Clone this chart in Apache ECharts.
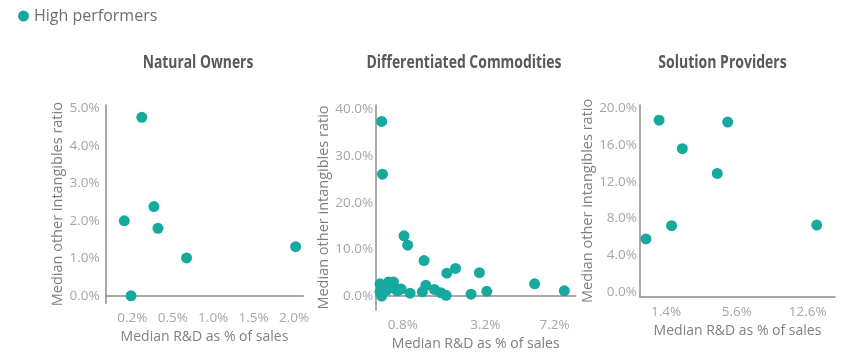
<!DOCTYPE html>
<html><head><meta charset="utf-8">
<script src="https://cdn.jsdelivr.net/npm/echarts@6/dist/echarts.min.js"></script>
<style>html,body{margin:0;padding:0;background:#fff}#c{width:847px;height:359px}</style>
</head><body><div id="c"></div>
<script>
const seriesName = 'High performers';
const panelTitles = ['Natural Owners', 'Differentiated Commodities', 'Solution Providers'];
const xAxisName = 'Median R&D as % of sales';
const yAxisName = 'Median other intangibles ratio';

// Natural Owners (R&D %, other intangibles %)
const noX = [0.27, 0.14, 0.36, 0.39, 0.67, 2.02, 0.19];
const noY = [4.76, 2.0, 2.38, 1.80, 1.01, 1.31, 0.0];
const noXTicks = [0.2, 0.5, 1.0, 1.5, 2.0];
const noYTicks = [0, 1, 2, 3, 4, 5];

// Differentiated Commodities
const dcX = [0.49, 0.50, 0.82, 0.885, 1.22, 2.08, 1.81, 2.95, 5.82, 7.94, 3.26, 2.62, 1.79, 1.64, 1.47, 1.26, 1.18, 0.93, 0.77,
             0.47, 0.47, 0.49, 0.58, 0.65, 0.55, 0.67, 0.52, 0.61, 0.71];
const dcY = [37.4, 26.1, 12.9, 10.9, 7.6, 5.9, 4.9, 5.0, 2.6, 1.1, 1.0, 0.4, 0.15, 0.7, 1.4, 2.3, 0.9, 0.6, 1.5,
             2.6, 0.9, 0.0, 3.0, 3.0, 1.2, 1.6, 1.9, 2.0, 1.1];
const dcXTicks = [0.8, 3.2, 7.2];
const dcYTicks = [0, 10, 20, 30, 40];

// Solution Providers
const spX = [1.14, 4.90, 2.12, 4.16, 1.63, 0.72, 13.69];
const spY = [18.7, 18.5, 15.6, 12.9, 7.2, 5.75, 7.27];
const spXTicks = [1.4, 5.6, 12.6];
const spYTicks = [0, 4, 8, 12, 16, 20];

// axis transforms (the original uses compressed, non-linear R&D axes)
function tickIndex(v, ticks) {
  let i = 0;
  while (i < ticks.length - 2 && v > ticks[i + 1]) i++;
  return i + (v - ticks[i]) / (ticks[i + 1] - ticks[i]);
}
const panels = [
  { xs: noX, ys: noY, xt: noXTicks, yt: noYTicks, f: v => tickIndex(v, noXTicks),
    grid: { left: 105.7, top: 105, width: 197.6, height: 198.3 }, xr: [-0.66, 4.23], yr: [-0.2, 5.09],
    onZero: true, lblMargin: 6, nameGap: 36, title: 198 },
  { xs: dcX, ys: dcY, xt: dcXTicks, yt: dcYTicks, f: v => Math.cbrt(v),
    grid: { left: 375.7, top: 105, width: 200, height: 205 }, xr: [0.749, 2.07], yr: [-3.0, 40.93],
    onZero: true, lblMargin: 2.5, nameGap: 43, title: 464 },
  { xs: spX, ys: spY, xt: spXTicks, yt: spYTicks, f: v => Math.sqrt(v),
    grid: { left: 640, top: 105, width: 195, height: 191.7 }, xr: [0.749, 4.006], yr: [-0.545, 20.36],
    onZero: false, lblMargin: 3, nameGap: 36, title: 722.5 }
];

const axisColor = '#8c8c8c';
const labelColor = '#a6a6a6';
const nameColor = '#7f7f7f';
const font = '"Open Sans", sans-serif';

const grids = [], xAxes = [], yAxes = [], series = [], graphics = [];
const mctx = document.createElement('canvas').getContext('2d');
mctx.font = 'bold 18px "Open Sans"';
const titleWidths = [110.6, 195, 128.4];

panels.forEach((p, i) => {
  grids.push(Object.assign({ containLabel: false }, p.grid));
  const xVals = p.xt.map(p.f);
  xAxes.push({
    type: 'value', gridIndex: i, min: p.xr[0], max: p.xr[1],
    axisLine: { show: true, onZero: p.onZero, lineStyle: { color: axisColor, width: 1.5 } },
    axisTick: { show: false }, splitLine: { show: false },
    axisLabel: {
      customValues: xVals, margin: 8, color: labelColor, fontSize: 13.5, fontFamily: font,
      formatter: v => {
        let k = 0, best = Infinity;
        xVals.forEach((t, j) => { const d = Math.abs(t - v); if (d < best) { best = d; k = j; } });
        return p.xt[k].toFixed(1) + '%';
      }
    },
    name: xAxisName, nameLocation: 'middle', nameGap: 26,
    nameTextStyle: { color: nameColor, fontSize: 14, fontFamily: font }
  });
  yAxes.push({
    type: 'value', gridIndex: i, min: p.yr[0], max: p.yr[1],
    axisLine: { show: true, onZero: false, lineStyle: { color: axisColor, width: 1.5 } },
    axisTick: { show: false }, splitLine: { show: false },
    axisLabel: {
      customValues: p.yt, margin: p.lblMargin, color: labelColor, fontSize: 13.5, fontFamily: font,
      formatter: v => v.toFixed(1) + '%'
    },
    name: yAxisName, nameLocation: 'middle', nameGap: p.nameGap,
    nameTextStyle: { color: nameColor, fontSize: 14.5, fontFamily: font }
  });
  series.push({
    name: seriesName, type: 'scatter', xAxisIndex: i, yAxisIndex: i,
    symbol: 'circle', symbolSize: 11, itemStyle: { color: '#17a9a0', opacity: 1 },
    data: p.xs.map((x, j) => [p.f(x), p.ys[j]])
  });
  const w = mctx.measureText(panelTitles[i]).width || titleWidths[i];
  graphics.push({
    type: 'text', x: p.title, y: 63, scaleX: titleWidths[i] / w,
    style: { text: panelTitles[i], fill: '#595959', font: 'bold 18px "Open Sans", sans-serif',
             textAlign: 'center', textVerticalAlign: 'middle' }
  });
});

const chart = echarts.init(document.getElementById('c'), null, { renderer: 'canvas' });
chart.setOption({
  animation: false,
  backgroundColor: '#ffffff',
  legend: {
    data: [seriesName], left: 18, top: 8, padding: 0, icon: 'circle', itemWidth: 11, itemHeight: 11, itemGap: 5,
    textStyle: { color: '#6d6e71', fontSize: 16, fontFamily: font }
  },
  grid: grids, xAxis: xAxes, yAxis: yAxes, series: series, graphic: graphics
});
</script></body></html>
